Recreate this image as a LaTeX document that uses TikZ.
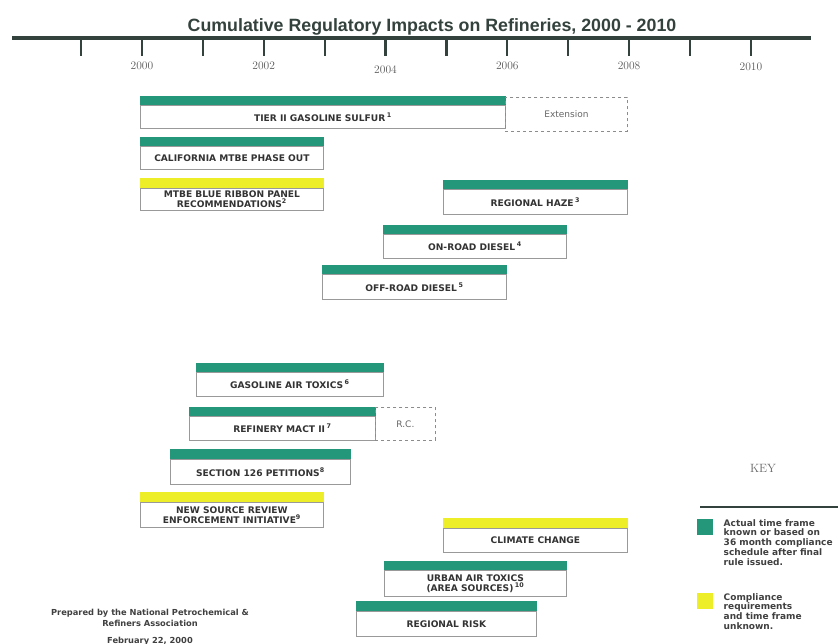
\documentclass[tikz,border=0pt]{standalone}
\usepackage{fontspec}
\setsansfont{Liberation Sans}
\newfontfamily\barfont{DejaVu Sans}
\usepackage{tikz}
\usetikzlibrary{positioning}

\definecolor{knownteal}{RGB}{36,150,122}
\definecolor{unknownyel}{RGB}{238,238,40}
\definecolor{axisgray}{RGB}{52,66,62}

\tikzset{
  regbox/.style={draw=black!40, line width=0.8pt, fill=white, inner sep=0pt,
    minimum height=24pt, anchor=north west, align=center, text=black!80,
    font=\barfont\bfseries\fontsize{9.1}{9.9}\selectfont},
  known/.style={fill=knownteal},
  unknown/.style={fill=unknownyel},
  pending/.style={draw=black!45, dashed, line width=0.8pt, inner sep=0pt,
    anchor=north west, text=black!60, font=\barfont\fontsize{9}{9}\selectfont},
  yearlbl/.style={font=\fontsize{11.5}{12}\selectfont, text=black!65},
  keytext/.style={font=\barfont\bfseries\fontsize{9}{9.8}\selectfont, text=black!75, align=left, anchor=north west}
}

\begin{document}
\begin{tikzpicture}[x=1pt,y=-1pt]
\useasboundingbox (0,0) rectangle (838,644);

% time axis
\node[font=\sffamily\bfseries\fontsize{17.8}{19}\selectfont, text=axisgray] (title) at (432,27) {Cumulative Regulatory Impacts on Refineries, 2000 - 2010};
\coordinate (axl) at (12,38);
\coordinate (axr) at (811,38);
\draw[axisgray, line width=3.5pt] (axl) -- (axr);
\foreach \i in {0,...,11}
  \draw[axisgray, line width=2.2pt] (81+60.9*\i,38) -- (81+60.9*\i,56);
\foreach \i/\yr/\dy in {1/2000/66,3/2002/66,5/2004/70,7/2006/66,9/2008/66,11/2010/67}
  \node[yearlbl] (y\yr) at (81+60.9*\i,\dy) {\yr};

% upper group
\node[regbox, minimum width=365pt, minimum height=23pt] (tier) at (140,105) {TIER II GASOLINE SULFUR\,\textsuperscript{1}};
\fill[known] (tier.north west) rectangle ([yshift=9pt]tier.north east);
\node[pending, minimum width=122pt, minimum height=34pt] (ext) at (505,97) {Extension};

\node[regbox, minimum width=183pt, minimum height=23pt] (calif) at (140,146) {CALIFORNIA MTBE PHASE OUT};
\fill[known] (calif.north west) rectangle ([yshift=9pt]calif.north east);

\node[regbox, minimum width=183pt, minimum height=22pt] (mtbe) at (140,188) {MTBE BLUE RIBBON PANEL\\RECOMMENDATIONS\textsuperscript{2}};
\fill[unknown] (mtbe.north west) rectangle ([yshift=10pt]mtbe.north east);

\node[regbox, minimum width=184pt, minimum height=25pt] (haze) at (443,189) {REGIONAL HAZE\,\textsuperscript{3}};
\fill[known] (haze.north west) rectangle ([yshift=9pt]haze.north east);

\node[regbox, minimum width=183pt] (onroad) at (383,234) {ON-ROAD DIESEL\,\textsuperscript{4}};
\fill[known] (onroad.north west) rectangle ([yshift=9pt]onroad.north east);

\node[regbox, minimum width=184pt, minimum height=25pt] (offroad) at (322,274) {OFF-ROAD DIESEL\,\textsuperscript{5}};
\fill[known] (offroad.north west) rectangle ([yshift=9pt]offroad.north east);

% lower group
\node[regbox, minimum width=187pt] (gat) at (196,372) {GASOLINE AIR TOXICS\,\textsuperscript{6}};
\fill[known] (gat.north west) rectangle ([yshift=9pt]gat.north east);

\node[regbox, minimum width=186pt] (mact) at (189,416) {REFINERY MACT II\,\textsuperscript{7}};
\fill[known] (mact.north west) rectangle ([yshift=9pt]mact.north east);
\node[pending, minimum width=60pt, minimum height=33pt] (rc) at (375,407) {R.C.};

\node[regbox, minimum width=180pt, minimum height=25pt] (s126) at (170,459) {SECTION 126 PETITIONS\textsuperscript{8}};
\fill[known] (s126.north west) rectangle ([yshift=10pt]s126.north east);

\node[regbox, minimum width=183pt, minimum height=25pt] (nsr) at (140,502) {NEW SOURCE REVIEW\\ENFORCEMENT INITIATIVE\textsuperscript{9}};
\fill[unknown] (nsr.north west) rectangle ([yshift=10pt]nsr.north east);

\node[regbox, minimum width=184pt] (climate) at (443,528) {CLIMATE CHANGE};
\fill[unknown] (climate.north west) rectangle ([yshift=10pt]climate.north east);

\node[regbox, minimum width=182pt, minimum height=26pt] (urban) at (384,570) {URBAN AIR TOXICS\\(AREA SOURCES)\,\textsuperscript{10}};
\fill[known] (urban.north west) rectangle ([yshift=9pt]urban.north east);

\node[regbox, minimum width=180pt, minimum height=25pt] (risk) at (356,611) {REGIONAL RISK};
\fill[known] (risk.north west) rectangle ([yshift=10pt]risk.north east);

% footer
\node[font=\barfont\bfseries\fontsize{8.3}{11.5}\selectfont, text=black!75, align=center] (prep) at (150,618) {Prepared by the National Petrochemical \&\\Refiners Association};
\node[font=\barfont\bfseries\fontsize{8.3}{9}\selectfont, text=black!75, below=3pt of prep] (date) {February 22, 2000};

% key
\node[font=\fontsize{12}{13}\selectfont, text=black!60] (key) at (763,468) {KEY};
\coordinate (kl) at (700,507);
\coordinate (kr) at (838,507);
\draw[axisgray, line width=2.5pt] (kl) -- (kr);
\node[known, minimum width=16pt, minimum height=16pt, inner sep=0pt] (kknown) at (705,527) {};
\node[keytext, right=7pt of kknown.north east, anchor=north west, yshift=3pt] (kknowntxt) {Actual time frame\\known or based on\\36 month compliance\\schedule after final\\rule issued.};
\node[unknown, minimum width=16pt, minimum height=16pt, inner sep=0pt] (kunknown) at (705,601) {};
\node[keytext, right=7pt of kunknown.north east, anchor=north west, yshift=3pt] (kunknowntxt) {Compliance\\requirements\\and time frame\\unknown.};
\end{tikzpicture}
\end{document}
